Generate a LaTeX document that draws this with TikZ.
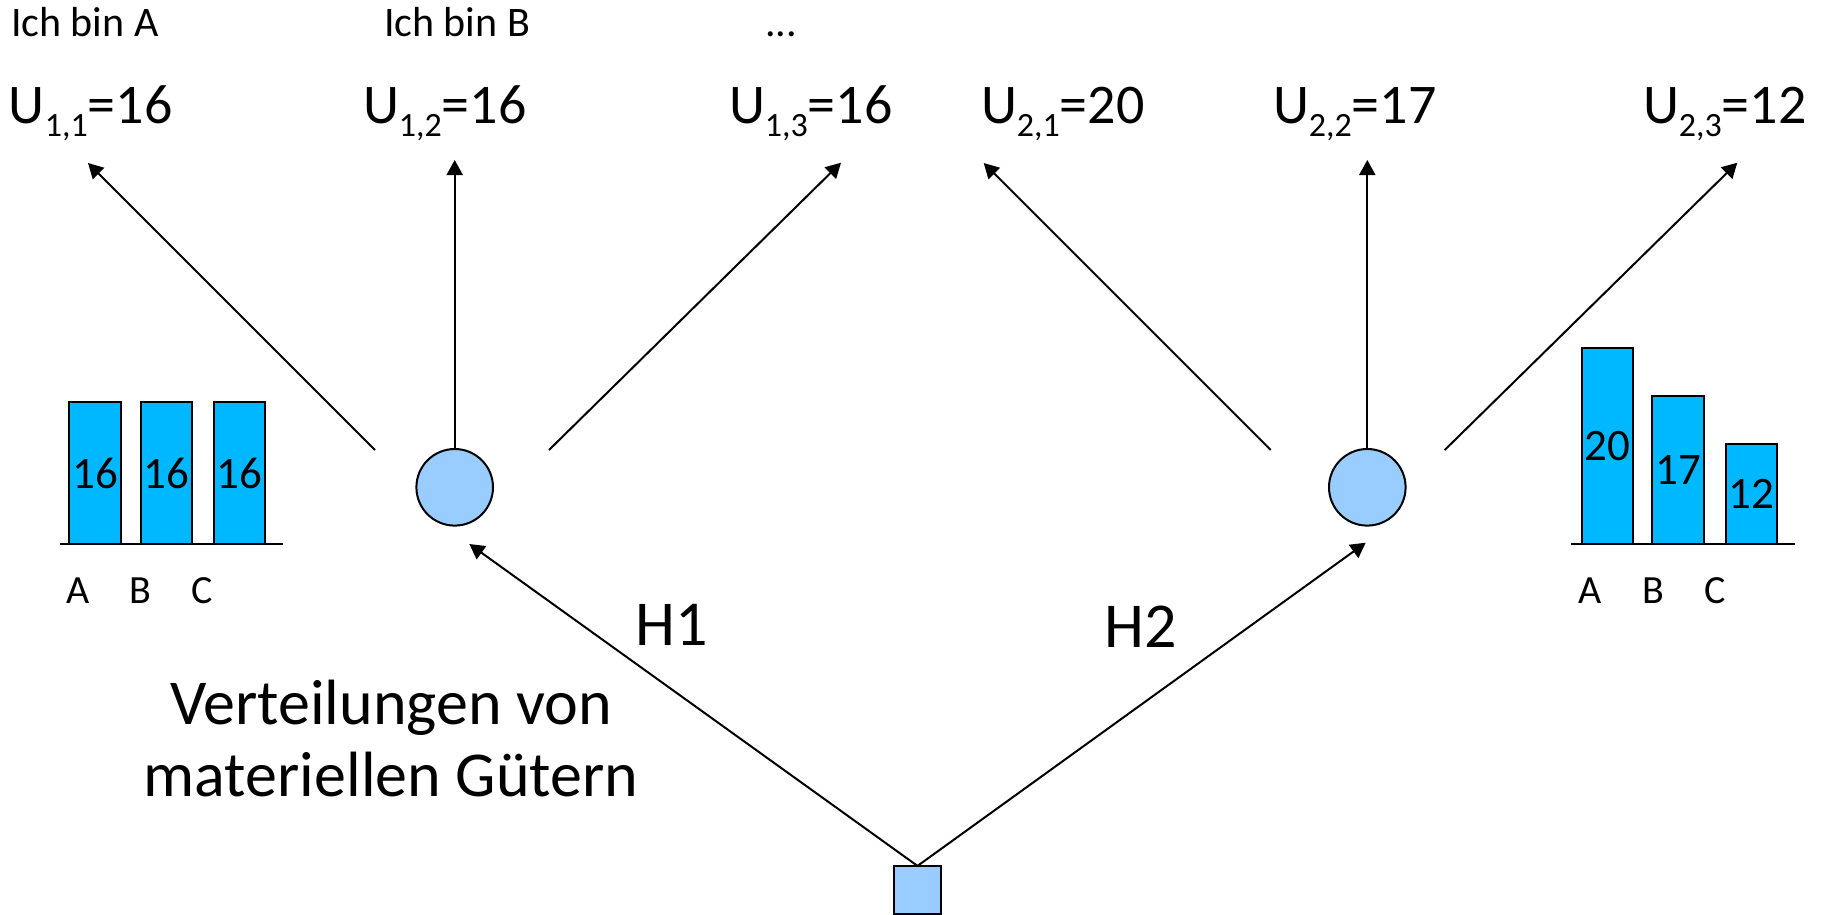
\documentclass[tikz,border=0pt]{standalone}
\usepackage{fontspec}
\setmainfont{Carlito}
\usetikzlibrary{arrows.meta}
\definecolor{nodeblue}{HTML}{99CCFF}
\definecolor{barblue}{HTML}{00B8FF}
\newcommand\subidx[1]{\raisebox{-13pt}{\fontsize{34}{40}\selectfont #1}}
\begin{document}
\begin{tikzpicture}[x=1pt,y=-1pt,
  every node/.style={inner sep=0pt, outer sep=0pt},
  plain/.style={line width=2pt},
  arrowline/.style={line width=2pt, -{Triangle[length=15pt,width=16pt]}},
  player/.style={circle, draw, line width=2pt, fill=nodeblue, minimum size=76.6pt},
  root/.style={rectangle, draw, line width=2pt, fill=nodeblue, minimum size=47.6pt},
  bar/.style={rectangle, draw, line width=2pt, fill=barblue, minimum width=51.4pt, anchor=south, font=\fontsize{45}{52}\selectfont},
  small/.style={font=\fontsize{42}{48}\selectfont, anchor=base west},
  ulabel/.style={font=\fontsize{56}{66}\selectfont, anchor=base west},
  axislab/.style={font=\fontsize{40}{46}\selectfont, anchor=base},
  big/.style={font=\fontsize{64}{74}\selectfont, anchor=base},
]
\useasboundingbox (0,0) rectangle (1822,915);

% top texts
\node[small] (ia) at (11,37) {Ich bin A};
\node[small] (ib) at (384,37) {Ich bin B};
\node[small] (dots) at (765,37) {...};

\node[ulabel] (u11) at (9,124) {U\subidx{1,1}=16};
\node[ulabel] (u12) at (363,124) {U\subidx{1,2}=16};
\node[ulabel] (u13) at (729,124) {U\subidx{1,3}=16};
\node[ulabel] (u21) at (981,124) {U\subidx{2,1}=20};
\node[ulabel] (u22) at (1273,124) {U\subidx{2,2}=17};
\node[ulabel] (u23) at (1643,124) {U\subidx{2,3}=12};

% nodes of the tree
\node[player] (c1) at (454.7,487.3) {};
\node[player] (c2) at (1367.3,487.3) {};
\node[root] (sq) at (917.5,889.7) {};

% free ends
\coordinate (s11) at (375,450);
\coordinate (t11) at (88,163);
\coordinate (t12) at (454.7,160);
\coordinate (s13) at (549,450);
\coordinate (t13) at (841,162.7);
\coordinate (s21) at (1270.7,450);
\coordinate (t21) at (983.7,163);
\coordinate (t22) at (1367.3,160);
\coordinate (s23) at (1444.7,450);
\coordinate (t23) at (1737.3,162.7);
\coordinate (h1tip) at (469.3,544);
\coordinate (h2tip) at (1365.7,542.7);

\draw[arrowline] (s11) -- (t11);
\draw[arrowline] (c1.north) -- (t12);
\draw[arrowline] (s13) -- (t13);
\draw[arrowline] (s21) -- (t21);
\draw[arrowline] (c2.north) -- (t22);
\draw[arrowline] (s23) -- (t23);
\draw[arrowline] (sq.north) -- (h1tip);
\draw[arrowline] (sq.north) -- (h2tip);

\node[big] (h1) at (672,645) {H1};
\node[big] (h2) at (1141,647) {H2};
\node[big] (vt1) at (391,724) {Verteilungen von};
\node[big] (vt2) at (391,796.7) {materiellen Gütern};

% left chart
\coordinate (la0) at (60,544);
\coordinate (la1) at (283,544);
\draw[plain] (la0) -- (la1);
\node[bar, minimum height=142pt] (lb1) at (95,544) {16};
\node[bar, minimum height=142pt] (lb2) at (166.7,544) {16};
\node[bar, minimum height=142pt] (lb3) at (239.5,544) {16};
\node[axislab] (lA) at (78.3,603.3) {A};
\node[axislab] (lB) at (140.7,603.3) {B};
\node[axislab] (lC) at (202.3,603.3) {C};

% right chart
\coordinate (ra0) at (1571,544);
\coordinate (ra1) at (1795,544);
\draw[plain] (ra0) -- (ra1);
\node[bar, minimum height=196pt] (rb1) at (1607.5,544) {20};
\node[bar, minimum height=148pt] (rb2) at (1678,544) {17};
\node[bar, minimum height=100pt] (rb3) at (1751.5,544) {12};
\node[axislab] (rA) at (1590,603.3) {A};
\node[axislab] (rB) at (1653,603.3) {B};
\node[axislab] (rC) at (1715,603.3) {C};
\end{tikzpicture}
\end{document}
